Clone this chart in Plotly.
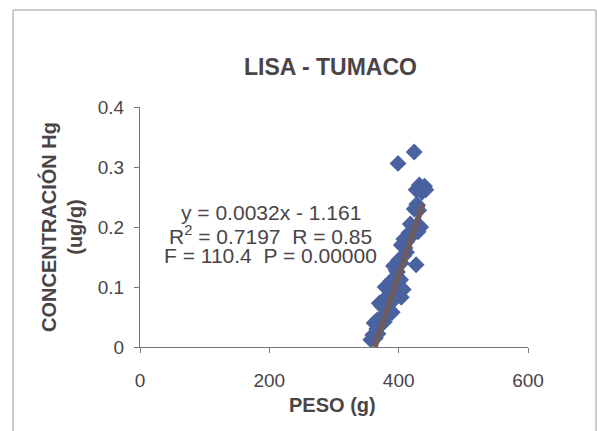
import plotly.graph_objects as go

# Peso (g) y concentración de Hg (ug/g) en lisa, Tumaco
peso = [357, 360, 364, 368, 366,
        362, 367, 370, 374, 378, 384, 390,
        370, 374, 378, 382, 386, 392, 398, 404,
        379, 384, 388, 393, 398, 403, 407,
        392, 396, 400, 404, 408, 412, 398,
        427,
        404, 408, 412, 416, 420, 425, 430, 434, 410, 418,
        424, 428, 431,
        427, 432, 436, 440, 442,
        399, 424]
hg = [0.012, 0.020, 0.015, 0.022, 0.030,
      0.040, 0.045, 0.036, 0.050, 0.042, 0.055, 0.058,
      0.073, 0.068, 0.080, 0.075, 0.085, 0.078, 0.088, 0.083,
      0.100, 0.095, 0.110, 0.104, 0.117, 0.112, 0.096,
      0.135, 0.128, 0.145, 0.140, 0.152, 0.158, 0.125,
      0.137,
      0.170, 0.180, 0.175, 0.190, 0.185, 0.198, 0.192, 0.200, 0.165, 0.205,
      0.230, 0.238, 0.228,
      0.262, 0.270, 0.258, 0.268, 0.262,
      0.306, 0.325]

# Recta de regresión: y = 0.0032x - 1.161
pendiente = 0.0032
intercepto = -1.161
recta_x = [362.8, 437.5]
recta_y = [pendiente * v + intercepto for v in recta_x]

x_ticks = [0, 200, 400, 600]
y_ticks = [0, 0.1, 0.2, 0.3, 0.4]
y_tick_text = ["0", "0.1", "0.2", "0.3", "0.4"]

texto = "#4a4447"
eje = "#7a7478"
fuente = "Liberation Sans, Arial, sans-serif"

fig = go.Figure()
fig.add_trace(go.Scatter(
    x=peso, y=hg, mode="markers",
    marker=dict(symbol="diamond", size=13, color="#4b62a0",
                line=dict(width=0)),
    showlegend=False,
))
fig.add_trace(go.Scatter(
    x=recta_x, y=recta_y, mode="lines",
    line=dict(color="#6a5c62", width=6),
    showlegend=False,
))

fig.update_layout(
    width=597, height=431,
    margin=dict(l=140, r=69, t=107, b=84),
    paper_bgcolor="white", plot_bgcolor="white",
    font=dict(family=fuente, color=texto, size=19),
    xaxis=dict(range=[0, 600], tickvals=x_ticks, showgrid=False,
               zeroline=False, showline=True, linecolor=eje, linewidth=1,
               ticks="outside", ticklen=5, tickcolor=eje,
               ticklabelstandoff=11,
               tickfont=dict(size=19, color=texto)),
    yaxis=dict(range=[0, 0.4], tickvals=y_ticks, ticktext=y_tick_text,
               showgrid=False, zeroline=False, showline=True,
               linecolor=eje, linewidth=1, ticks="outside", ticklen=5,
               tickcolor=eje, ticklabelstandoff=6,
               tickfont=dict(size=19, color=texto)),
    shapes=[dict(type="rect", xref="paper", yref="paper",
                 x0=-0.3273, x1=1.1753, y0=-0.37, y1=1.404,
                 line=dict(color="#9a9a9e", width=1), layer="below")],
)

fig.add_annotation(text="<b>LISA - TUMACO</b>", xref="paper", yref="paper",
                   x=0.49, y=1.167, xanchor="center", yanchor="middle",
                   showarrow=False, font=dict(size=23, color=texto))
fig.add_annotation(text="<b>PESO (g)</b>", xref="paper", yref="paper",
                   x=0.497, y=-0.242, xanchor="center", yanchor="middle",
                   showarrow=False, font=dict(size=20, color=texto))
fig.add_annotation(text="<b>CONCENTRACIÓN Hg<br>(ug/g)</b>", xref="paper",
                   yref="paper", x=-0.2036, y=0.5, xanchor="center",
                   yanchor="middle", showarrow=False, textangle=-90,
                   font=dict(size=20, color=texto))

lineas = ["y = 0.0032x - 1.161",
          "R<sup>2</sup> = 0.7197  R = 0.85",
          "F = 110.4  P = 0.00000"]
pos_y = [0.225, 0.186, 0.152]
for t, yy in zip(lineas, pos_y):
    fig.add_annotation(text=t, x=202, y=yy, xref="x", yref="y",
                       xanchor="center", yanchor="middle",
                       showarrow=False, font=dict(size=21, color=texto))

fig.write_html("out.html")
